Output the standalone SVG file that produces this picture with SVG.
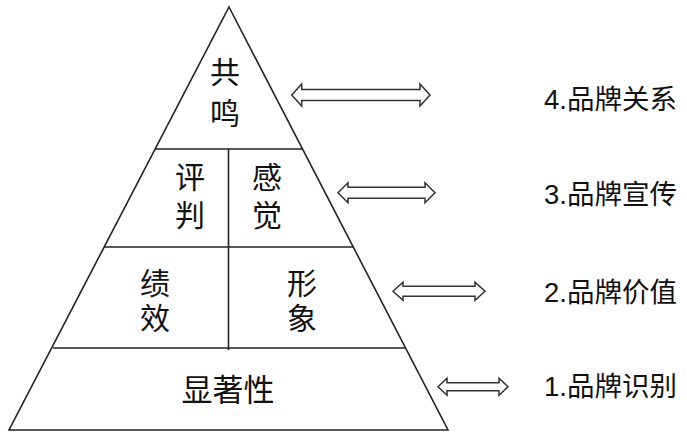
<svg xmlns="http://www.w3.org/2000/svg" width="687" height="435" viewBox="0 0 687 435">
<style>
.ln{stroke:#222;stroke-width:1.6;fill:none}
.ar{stroke:#333;stroke-width:1.5;fill:#fff;stroke-linejoin:miter}
.pt{font-family:"Noto Sans CJK SC",sans-serif;font-size:30px;fill:#111;text-anchor:middle}
.lb{font-family:"Liberation Sans","Noto Sans CJK SC",sans-serif;font-size:27.5px;fill:#111}
</style>
<rect width="687" height="435" fill="#fff"/>
<g id="pyramid">
<polygon class="ln" points="229,7 448,430 9,430"/>
<line class="ln" x1="155" y1="149" x2="303" y2="149"/>
<line class="ln" x1="104" y1="247" x2="354" y2="247"/>
<line class="ln" x1="53" y1="348" x2="405" y2="348"/>
<line class="ln" x1="228.5" y1="149" x2="228.5" y2="350"/>
</g>
<g id="n-gongming"><text class="pt" x="225" y="83">共<tspan x="225" dy="41">鸣</tspan></text></g>
<g id="n-pingpan"><text class="pt" x="190" y="188">评<tspan x="190" dy="38">判</tspan></text></g>
<g id="n-ganjue"><text class="pt" x="267" y="188">感<tspan x="267" dy="38">觉</tspan></text></g>
<g id="n-jixiao"><text class="pt" x="155" y="294">绩<tspan x="155" dy="35">效</tspan></text></g>
<g id="n-xingxiang"><text class="pt" x="302" y="294">形<tspan x="302" dy="35">象</tspan></text></g>
<g id="n-xianzhuxing"><text class="pt" x="228" y="401" style="font-size:31px">显著性</text></g>
<g id="connectors">
<path class="ar" d="M291.7,95 L301.7,84 L301.7,89.5 L420,89.5 L420,84 L430,95 L420,106 L420,100.5 L301.7,100.5 L301.7,106 Z"/>
<path class="ar" d="M338,192.7 L348,182.7 L348,187.2 L425,187.2 L425,182.7 L435,192.7 L425,202.7 L425,198.2 L348,198.2 L348,202.7 Z"/>
<path class="ar" d="M393,291.3 L403,282.3 L403,286.3 L475,286.3 L475,282.3 L485,291.3 L475,300.3 L475,296.3 L403,296.3 L403,300.3 Z"/>
<path class="ar" d="M438,386.7 L447,378.2 L447,382.7 L499,382.7 L499,378.2 L508,386.7 L499,395.2 L499,390.7 L447,390.7 L447,395.2 Z"/>
</g>
<g id="n-label4"><text class="lb" x="544" y="109">4.品牌关系</text></g>
<g id="n-label3"><text class="lb" x="544" y="204">3.品牌宣传</text></g>
<g id="n-label2"><text class="lb" x="544" y="302">2.品牌价值</text></g>
<g id="n-label1"><text class="lb" x="544" y="396">1.品牌识别</text></g>
</svg>
